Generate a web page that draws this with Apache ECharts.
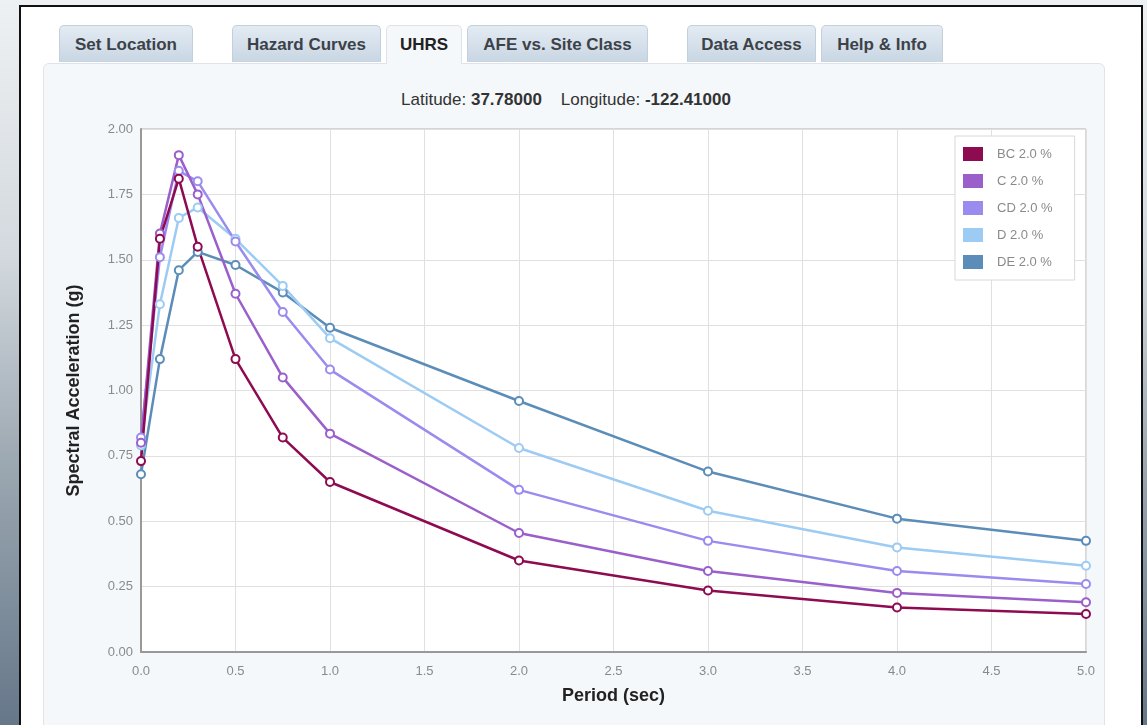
<!DOCTYPE html>
<html>
<head>
<meta charset="utf-8">
<script src="https://cdn.jsdelivr.net/npm/echarts@6/dist/echarts.min.js"></script>
<style>
  html, body { margin:0; padding:0; width:1147px; height:725px; overflow:hidden; }
  body { background: linear-gradient(to bottom, #eef1f3 0%, #d3d9de 35%, #9aa6b0 65%, #66778a 100%); position:relative; font-family:"Liberation Sans", Arial, sans-serif; }
  #frame { position:absolute; left:19px; top:5px; width:1120px; height:740px; background:#fff; border:2px solid #111; border-bottom:none; }
  #panel { position:absolute; left:43px; top:63px; width:1060px; height:700px; background:#f5f8fb; border:1px solid #e0e4e8; border-radius:6px 6px 0 0; }
  .tab { position:absolute; top:25px; height:37px; line-height:38px; text-align:center; font-weight:bold; font-size:17px; color:#3d4248;
         background:linear-gradient(to bottom, #e3ebf3, #c8d6e3); border:1px solid #c3cfda; border-bottom:none; border-radius:5px 5px 0 0; box-sizing:border-box; }
  .tab.active { background:#f5f8fb; height:39px; z-index:2; border-color:#dde3e8; color:#222; }
  #coords { position:absolute; left:401px; top:90px; font-size:17px; color:#333; white-space:pre; }
  #coords b { font-weight:bold; }
  #chart { position:absolute; left:0; top:0; width:1147px; height:725px; z-index:5; }
</style>
</head>
<body>
<div id="frame"></div>
<div id="panel"></div>
<div class="tab" style="left:59px;width:134px;">Set Location</div>
<div class="tab" style="left:232px;width:149px;">Hazard Curves</div>
<div class="tab active" style="left:386px;width:76px;">UHRS</div>
<div class="tab" style="left:467px;width:181px;">AFE vs. Site Class</div>
<div class="tab" style="left:687px;width:129px;">Data Access</div>
<div class="tab" style="left:821px;width:122px;">Help &amp; Info</div>
<div id="coords">Latitude: <b>37.78000</b>    Longitude: <b>-122.41000</b></div>
<div id="chart"></div>
<script>
// Periods (sec)
const periods = [0.0, 0.1, 0.2, 0.3, 0.5, 0.75, 1.0, 2.0, 3.0, 4.0, 5.0];
// Spectral acceleration (g) per site class
const seriesNames = ["BC 2.0 %", "C 2.0 %", "CD 2.0 %", "D 2.0 %", "DE 2.0 %"];
const BC = [0.73, 1.58, 1.81, 1.55, 1.12, 0.82, 0.65, 0.35, 0.235, 0.17, 0.145];
const C  = [0.80, 1.60, 1.90, 1.75, 1.37, 1.05, 0.835, 0.455, 0.31, 0.226, 0.19];
const CD = [0.82, 1.51, 1.84, 1.80, 1.57, 1.30, 1.08, 0.62, 0.425, 0.31, 0.26];
const D  = [0.79, 1.33, 1.66, 1.70, 1.58, 1.40, 1.20, 0.78, 0.54, 0.40, 0.33];
const DE = [0.68, 1.12, 1.46, 1.53, 1.48, 1.375, 1.24, 0.96, 0.69, 0.51, 0.425];
const colors = ["#8e0b52", "#9a5fcb", "#9a8bef", "#9ccbf3", "#5b8db8"];
const allValues = [BC, C, CD, D, DE];

const chart = echarts.init(document.getElementById('chart'), null, {renderer:'canvas'});
const FF = 'Liberation Sans, Arial, sans-serif';
const labelFont = { color:'#8a8a8a', fontSize:13, fontFamily:FF };
chart.setOption({
  animation:false,
  color: colors,
  grid: { left:141, top:129, width:945, height:523, show:true, backgroundColor:'#fff', borderColor:'#b0b0b0', borderWidth:1 },
  legend: {
    orient:'vertical', left:955, top:136,
    data: seriesNames.map((n, i) => ({ name:n, itemStyle:{ color:colors[i], borderWidth:0 } })),
    icon:'rect', itemWidth:20, itemHeight:14, itemGap:13,
    backgroundColor:'#fff', borderColor:'#d8d8d8', borderWidth:1,
    padding:[11, 22, 11, 8],
    textStyle:{ color:'#8a8a8a', fontSize:13, fontFamily:FF, padding:[0,0,0,9] }
  },
  xAxis: {
    type:'value', min:0, max:5, interval:0.5,
    name:'Period (sec)', nameLocation:'middle', nameGap:35,
    nameTextStyle:{ fontWeight:'bold', fontSize:18, color:'#222', fontFamily:FF },
    axisLine:{ show:true, lineStyle:{ color:'#999', width:2 } },
    axisTick:{ show:false },
    axisLabel:{ ...labelFont, margin:13, formatter:v => v.toFixed(1) },
    splitLine:{ show:true, lineStyle:{ color:'#e0e0e0' } }
  },
  yAxis: {
    type:'value', min:0, max:2, interval:0.25,
    name:'Spectral Acceleration (g)', nameLocation:'middle', nameGap:58,
    nameTextStyle:{ fontWeight:'bold', fontSize:18, color:'#222', fontFamily:FF },
    axisLine:{ show:true, lineStyle:{ color:'#999', width:2 } },
    axisTick:{ show:false },
    axisLabel:{ ...labelFont, margin:8, formatter:v => v.toFixed(2) },
    splitLine:{ show:true, lineStyle:{ color:'#e0e0e0' } }
  },
  series: allValues.map((vals, i) => ({
    name: seriesNames[i],
    type:'line',
    smooth:false,
    data: periods.map((p, j) => [p, vals[j]]),
    symbol:'circle', symbolSize:8,
    lineStyle:{ width:2.5, color:colors[i] },
    itemStyle:{ color:'#fff', borderColor:colors[i], borderWidth:2 },
    emphasis:{ disabled:true }
  })).reverse()
});
</script>
</body>
</html>
